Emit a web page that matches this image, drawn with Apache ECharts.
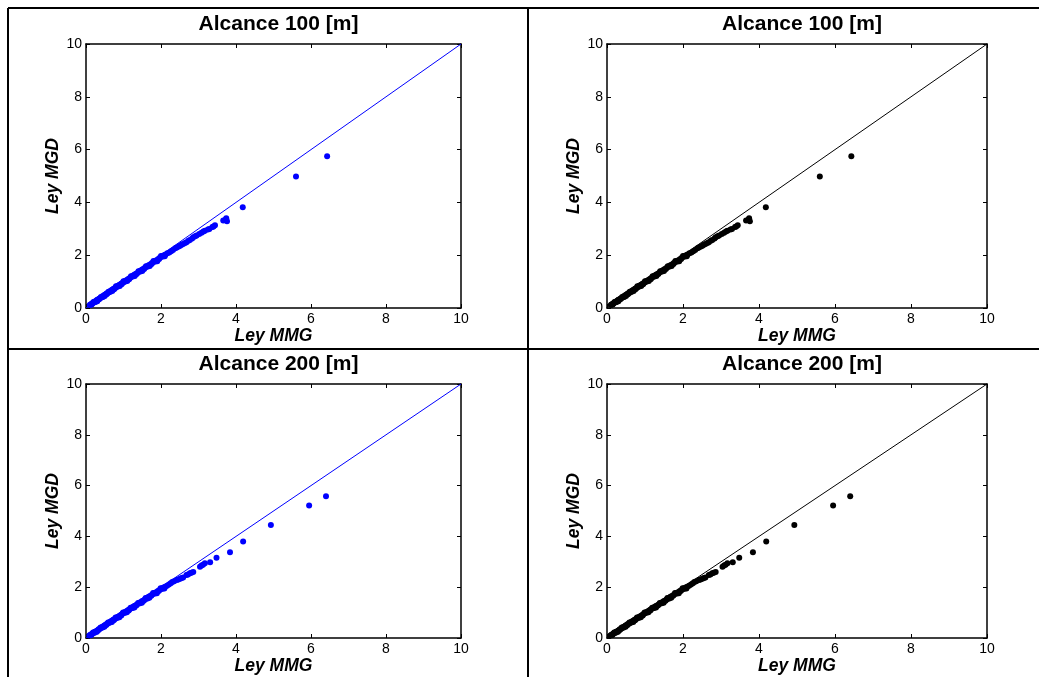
<!DOCTYPE html>
<html>
<head>
<meta charset="utf-8">
<title>Ley MGD vs Ley MMG</title>
<script src="https://cdn.jsdelivr.net/npm/echarts@6/dist/echarts.min.js"></script>
<style>
  html, body { margin: 0; padding: 0; background: #fff; }
  #chart { width: 1039px; height: 677px; }
</style>
</head>
<body>
<div id="chart"></div>
<script>
// Ley MMG (x) / Ley MGD (y)
const puntos100 = [
  [0.10,0.11],[0.12,0.13],[0.14,0.14],[0.16,0.17],[0.18,0.18],[0.20,0.21],[0.22,0.22],[0.24,0.25],
  [0.26,0.26],[0.28,0.28],[0.30,0.31],[0.33,0.32],[0.35,0.35],[0.38,0.37],[0.40,0.40],[0.43,0.42],
  [0.45,0.45],[0.48,0.47],[0.50,0.50],[0.53,0.52],[0.55,0.55],[0.58,0.57],[0.60,0.59],[0.63,0.62],
  [0.65,0.64],[0.68,0.67],[0.70,0.69],[0.73,0.72],[0.75,0.74],[0.78,0.76],[0.80,0.79],[0.83,0.81],
  [0.85,0.84],[0.88,0.86],[0.90,0.88],[0.93,0.91],[0.95,0.93],[0.98,0.96],[1.00,0.98],[1.03,1.01],
  [1.06,1.03],[1.09,1.06],[1.12,1.09],[1.15,1.12],[1.18,1.15],[1.21,1.18],[1.24,1.21],[1.27,1.24],
  [1.30,1.27],[1.33,1.29],[1.36,1.32],[1.40,1.36],[1.43,1.39],[1.46,1.42],[1.50,1.46],[1.53,1.48],
  [1.57,1.52],[1.60,1.55],[1.64,1.59],[1.68,1.63],[1.72,1.66],[1.76,1.70],[1.80,1.74],[1.84,1.78],
  [1.88,1.81],[1.92,1.85],[1.96,1.89],[2.00,1.93],[2.04,1.97],[2.08,2.00],[2.12,2.03],[2.17,2.07],
  [2.22,2.10],
  [0.15,0.13],[0.25,0.23],[0.35,0.33],[0.45,0.42],[0.55,0.52],[0.65,0.62],[0.75,0.71],[0.85,0.81],
  [0.95,0.90],[1.05,1.00],[1.15,1.09],[1.25,1.19],[1.35,1.29],[1.45,1.38],[1.55,1.48],[1.65,1.57],
  [1.75,1.67],[1.85,1.76],[1.95,1.86],[2.05,1.95],
  [0.30,0.26],[0.50,0.45],[0.70,0.64],[0.90,0.83],[1.10,1.02],[1.30,1.21],[1.50,1.40],[1.70,1.59],
  [1.90,1.77],[2.10,1.96],
  [0.20,0.23],[0.40,0.42],[0.60,0.62],[0.80,0.82],[1.00,1.01],[1.20,1.20],[1.40,1.39],[1.60,1.58],
  [1.80,1.78],[2.00,1.97],
  [2.27,2.15],[2.32,2.20],[2.38,2.26],[2.42,2.29],[2.47,2.33],[2.51,2.36],[2.55,2.40],[2.59,2.42],
  [2.64,2.46],[2.68,2.49],[2.73,2.55],[2.77,2.58],[2.83,2.63],[2.86,2.68],[2.91,2.72],[2.95,2.75],
  [3.02,2.80],[3.08,2.85],[3.13,2.90],[3.17,2.93],[3.25,2.97],[3.29,2.99],[3.37,3.07],[3.40,3.09],
  [3.44,3.13],
  [3.66,3.31],[3.72,3.34],[3.74,3.40],[3.76,3.29],[4.18,3.82],[5.60,4.98],[6.43,5.75]
]

const puntos200 = [
  [0.09,0.10],[0.11,0.12],[0.13,0.13],[0.15,0.16],[0.17,0.17],[0.19,0.20],[0.21,0.21],[0.23,0.24],
  [0.25,0.25],[0.27,0.27],[0.30,0.30],[0.32,0.31],[0.34,0.34],[0.37,0.36],[0.39,0.39],[0.42,0.41],
  [0.44,0.44],[0.47,0.46],[0.49,0.49],[0.52,0.51],[0.54,0.54],[0.57,0.56],[0.59,0.58],[0.62,0.61],
  [0.64,0.63],[0.67,0.66],[0.69,0.68],[0.72,0.71],[0.74,0.73],[0.77,0.75],[0.79,0.78],[0.82,0.80],
  [0.84,0.83],[0.87,0.85],[0.89,0.87],[0.92,0.90],[0.94,0.92],[0.97,0.95],[0.99,0.97],[1.02,1.00],
  [1.05,1.02],[1.08,1.05],[1.11,1.08],[1.14,1.11],[1.17,1.14],[1.20,1.17],[1.23,1.20],[1.26,1.23],
  [1.29,1.26],[1.32,1.28],[1.35,1.31],[1.39,1.35],[1.42,1.38],[1.45,1.41],[1.49,1.45],[1.52,1.47],
  [1.56,1.51],[1.59,1.54],[1.63,1.58],[1.67,1.62],[1.71,1.65],[1.75,1.69],[1.79,1.73],[1.83,1.77],
  [1.87,1.80],[1.91,1.84],[1.95,1.88],[1.99,1.92],[2.03,1.96],[2.07,1.99],[2.11,2.02],[2.16,2.06],
  [2.21,2.11],
  [0.14,0.12],[0.24,0.22],[0.34,0.32],[0.44,0.41],[0.54,0.51],[0.64,0.61],[0.74,0.70],[0.84,0.80],
  [0.94,0.89],[1.04,0.99],[1.14,1.08],[1.24,1.18],[1.34,1.28],[1.44,1.37],[1.54,1.47],[1.64,1.56],
  [1.74,1.66],[1.84,1.75],[1.94,1.85],[2.04,1.94],
  [0.29,0.25],[0.49,0.44],[0.69,0.63],[0.89,0.82],[1.09,1.01],[1.29,1.20],[1.49,1.39],[1.69,1.58],
  [1.89,1.76],[2.09,1.95],
  [0.19,0.22],[0.39,0.41],[0.59,0.61],[0.79,0.81],[0.99,1.00],[1.19,1.19],[1.39,1.38],[1.59,1.57],
  [1.79,1.77],[1.99,1.96],
  [2.26,2.16],[2.30,2.20],[2.35,2.23],[2.42,2.28],[2.46,2.30],[2.51,2.33],[2.55,2.36],[2.59,2.38],
  [2.68,2.48],[2.72,2.50],[2.77,2.55],[2.81,2.57],[2.86,2.60],[3.04,2.81],[3.08,2.85],[3.12,2.88],
  [3.17,2.94],[3.31,2.98],[3.48,3.16],[3.84,3.38],[4.19,3.80],[4.93,4.45],[5.95,5.22],[6.40,5.58]
]

// recta 1:1
const recta = [[0, 0], [10, 10]]

const titulos = ['Alcance 100 [m]', 'Alcance 100 [m]', 'Alcance 200 [m]', 'Alcance 200 [m]']
const ejeX = 'Ley MMG'
const ejeY = 'Ley MGD'

const paneles = [
  { left: 86, top: 44, width: 375, height: 264, data: puntos100, color: '#0000ff' },
  { left: 607, top: 44, width: 380, height: 264, data: puntos100, color: '#000000' },
  { left: 86, top: 384, width: 375, height: 254, data: puntos200, color: '#0000ff' },
  { left: 607, top: 384, width: 380, height: 254, data: puntos200, color: '#000000' }
]

const fuente = 'Liberation Sans, Arial, sans-serif'

const chart = echarts.init(document.getElementById('chart'), null, { renderer: 'canvas' })

const grid = []
const xAxis = []
const yAxis = []
const series = []
const title = []

const ejeBase = (gi) => ({
  gridIndex: gi,
  type: 'value',
  min: 0,
  max: 10,
  interval: 2,
  splitLine: { show: false },
  axisLine: { show: true, onZero: false, lineStyle: { color: '#000', width: 1.5 } },
  axisTick: { show: true, inside: true, length: 4, lineStyle: { color: '#000', width: 1 } },
  axisLabel: { show: true, color: '#000', fontSize: 14, fontFamily: fuente, margin: 4 }
})

const estiloNombre = { fontSize: 17.5, fontWeight: 'bold', fontStyle: 'italic', color: '#000', fontFamily: fuente }

paneles.forEach((p, i) => {
  grid.push({ left: p.left, top: p.top, width: p.width, height: p.height, containLabel: false })

  title.push({
    text: titulos[i],
    left: p.left + p.width / 2,
    top: p.top - 35,
    textAlign: 'center',
    textStyle: { fontSize: 21, fontWeight: 'bold', color: '#000', fontFamily: fuente }
  })

  // eje inferior e izquierdo con etiquetas
  xAxis.push(Object.assign(ejeBase(i), {
    position: 'bottom',
    name: ejeX,
    nameLocation: 'middle',
    nameGap: 19,
    nameTextStyle: estiloNombre
  }))
  yAxis.push(Object.assign(ejeBase(i), {
    position: 'left',
    name: ejeY,
    nameLocation: 'middle',
    nameGap: 24,
    nameTextStyle: estiloNombre
  }))

  series.push({
    type: 'line',
    xAxisIndex: i * 2,
    yAxisIndex: i * 2,
    data: recta,
    symbol: 'none',
    silent: true,
    lineStyle: { color: p.color, width: 1 },
    z: 3
  })
  series.push({
    type: 'scatter',
    xAxisIndex: i * 2,
    yAxisIndex: i * 2,
    data: p.data,
    symbol: 'circle',
    symbolSize: 6,
    itemStyle: { color: p.color, opacity: 1 },
    z: 2
  })

  // ejes superior y derecho solo con marcas (caja)
  const sup = ejeBase(i)
  sup.position = 'top'
  sup.axisLabel = { show: false }
  xAxis.push(sup)
  const der = ejeBase(i)
  der.position = 'right'
  der.axisLabel = { show: false }
  yAxis.push(der)
})

const borde = { stroke: '#000', lineWidth: 2 }

const option = {
  backgroundColor: '#fff',
  animation: false,
  title: title,
  grid: grid,
  xAxis: xAxis,
  yAxis: yAxis,
  series: series,
  graphic: [
    { type: 'line', shape: { x1: 8, y1: 8, x2: 1039, y2: 8 }, style: borde },
    { type: 'line', shape: { x1: 8, y1: 8, x2: 8, y2: 677 }, style: borde },
    { type: 'line', shape: { x1: 528, y1: 8, x2: 528, y2: 677 }, style: borde },
    { type: 'line', shape: { x1: 8, y1: 349, x2: 1039, y2: 349 }, style: borde }
  ]
}

chart.setOption(option)
</script>
</body>
</html>
